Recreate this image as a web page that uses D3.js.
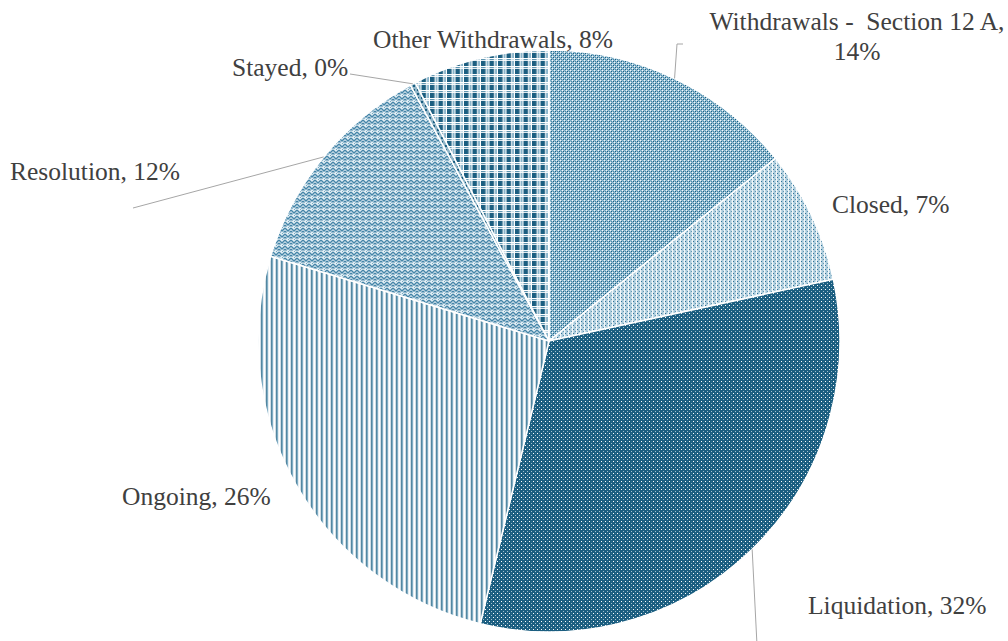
<!DOCTYPE html>
<html>
<head>
<meta charset="utf-8">
<script src="https://cdn.jsdelivr.net/npm/d3@7"></script>
<style>
  html, body { margin: 0; padding: 0; background: #fff; }
  svg { display: block; }
  text { font-family: "Liberation Serif", "Times New Roman", serif; fill: #404040; white-space: pre; }
</style>
</head>
<body>
<svg id="chart" width="1008" height="641"></svg>
<script>
// ---- data ----
const categories = ["Withdrawals -  Section 12 A", "Closed", "Liquidation", "Ongoing", "Resolution", "Stayed", "Other Withdrawals"];
const shares = [14.2, 7.4, 32.2, 25.9, 12.4, 0.3, 7.6];

// ---- layout / style (not data) ----
const W = 1008, H = 641;
const cx = 549, cy = 341, R = 291;
const fontSize = 25.5;
const labelLayout = [
  { lines: ["{c},", "{p}"], x: 857, y: 30, anchor: "middle", leader: [[0,0],[677,44],[683,44]] },
  { lines: ["{c}, {p}"], x: 832, y: 213, anchor: "start" },
  { lines: ["{c}, {p}"], x: 808, y: 614, anchor: "start", leader: [[0,0],[757,645]] },
  { lines: ["{c}, {p}"], x: 122, y: 505, anchor: "start" },
  { lines: ["{c}, {p}"], x: 10, y: 180, anchor: "start", leader: [[0,0],[133,208]] },
  { lines: ["{c}, {p}"], x: 232, y: 76, anchor: "start", leader: [[0,0],[350,74]] },
  { lines: ["{c}, {p}"], x: 373, y: 48, anchor: "start" }
];

const svg = d3.select("#chart");
const defs = svg.append("defs");
const D = "#1b5e80";

function pat(id, w, h, bg, rects) {
  const p = defs.append("pattern").attr("id", id).attr("patternUnits", "userSpaceOnUse")
    .attr("width", w).attr("height", h);
  p.append("rect").attr("width", w).attr("height", h).attr("fill", bg);
  rects.forEach(r => p.append("rect").attr("x", r[0]).attr("y", r[1]).attr("width", r[2]).attr("height", r[3]).attr("fill", r[4]));
  return p;
}
// Withdrawals 12A: medium dotted grid
pat("p0", 4, 4, "#9ac2d6", [[0,0,1,1,D],[2,2,1,1,D],[2,0,1,1,"#4a89aa"],[0,2,1,1,"#4a89aa"],[1,1,1,1,"#f4f8fa"],[3,3,1,1,"#f4f8fa"],[3,1,1,1,"#7cacc4"],[1,3,1,1,"#7cacc4"]]);
// Closed: light dotted
pat("p1", 4, 4, "#c3dbe7", [[0,0,1,1,"#2f7196"],[2,2,1,1,"#5f96b2"],[3,0,1,4,"#f2f7f9"],[1,0,1,4,"#a7c8d9"]]);
// Liquidation: dark with white dots
pat("p2", 4, 4, D, [[0,0,1,1,"#ffffff"],[2,2,1,1,"#a0c0d0"],[2,0,1,1,"#2a6a8c"]]);
// Ongoing: vertical stripes
pat("p3", 5, 5, "#ffffff", [[1.8,0,1.0,5,D],[2.8,0,1.4,5,"#80adc4"]]);
// Resolution: weave
(function(){
  const p = defs.append("pattern").attr("id", "p4").attr("patternUnits", "userSpaceOnUse").attr("width", 6).attr("height", 6);
  p.append("rect").attr("width", 6).attr("height", 6).attr("fill", "#e0edf4");
  p.append("path").attr("d", "M0,1 L3,4 L6,1 M0,4 L1.5,5.5 M4.5,5.5 L6,4")
    .attr("stroke", "#4585a8").attr("stroke-width", 1.3).attr("fill", "none");
  p.append("rect").attr("x", 3).attr("y", 0).attr("width", 1).attr("height", 1).attr("fill", "#76a8c0");
})();
// Stayed
pat("p5", 4, 4, "#8fb5c8", [[0,0,2,2,D]]);
// Other Withdrawals: plaid
pat("p6", 8.5, 8, "#ffffff", [[0,0,4.5,5,D],[5.5,0,2,5,"#86b2c8"],[0,6,4.5,1.2,"#5f95b0"],[5.5,6,2,1.2,"#c8dce6"]]);

const pie = d3.pie().sort(null).value(d => d)(shares);
const arc = d3.arc().innerRadius(0).outerRadius(R);
const g = svg.append("g").attr("transform", `translate(${cx},${cy})`);

g.selectAll("path.slice").data(pie).enter().append("path")
  .attr("class", "slice")
  .attr("d", arc)
  .attr("fill", (d, i) => `url(#p${i})`)
  .attr("stroke", "#ffffff")
  .attr("stroke-width", 1.5)
  .attr("stroke-linejoin", "round");

// leader lines
const total = d3.sum(shares);
pie.forEach((d, i) => {
  const lay = labelLayout[i];
  if (!lay.leader) return;
  const a = (d.startAngle + d.endAngle) / 2;
  const sx = cx + R * Math.sin(a), sy = cy - R * Math.cos(a);
  const pts = lay.leader.map((p, k) => k === 0 ? [sx, sy] : p);
  svg.append("path").attr("d", d3.line()(pts))
    .attr("fill", "none").attr("stroke", "#a6a6a6").attr("stroke-width", 1);
});

// labels
pie.forEach((d, i) => {
  const lay = labelLayout[i];
  const pct = Math.round(shares[i] / total * 100) + "%";
  const t = svg.append("text").attr("x", lay.x).attr("y", lay.y)
    .attr("text-anchor", lay.anchor).style("font-size", fontSize + "px");
  lay.lines.forEach((ln, k) => {
    t.append("tspan").attr("x", lay.x).attr("dy", k === 0 ? 0 : 30)
      .text(ln.replace("{c}", categories[i]).replace("{p}", pct));
  });
});
</script>
</body>
</html>
